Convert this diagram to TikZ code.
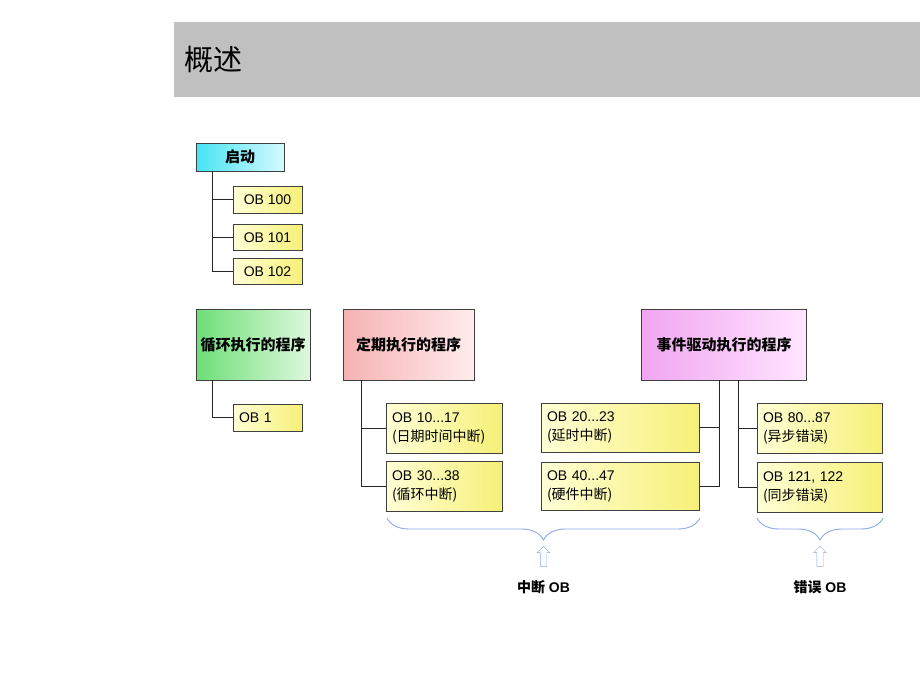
\documentclass[tikz,border=0pt]{standalone}
\usepackage{fontspec}
\usepackage{xcolor}
\setmainfont{Liberation Sans}
\newfontfamily\cjk{Noto Sans CJK SC}
\usepackage{tikz}
\usetikzlibrary{positioning,decorations.pathreplacing,shapes.arrows}
\definecolor{titlegray}{RGB}{192,192,192}
\definecolor{obleft}{RGB}{255,255,214}
\definecolor{obright}{RGB}{246,240,120}
\definecolor{braceblue}{RGB}{140,168,232}

\begin{document}
\begin{tikzpicture}[x=1pt, y=-1pt,
  obnode/.style={draw=black!75, left color=obleft, right color=obright, minimum width=69pt, minimum height=27pt, inner sep=0pt, font=\fontsize{14}{16}\selectfont},
  twonode/.style={obnode, align=left, inner xsep=6pt, minimum height=50pt, font=\fontsize{14}{19}\selectfont},
  headnode/.style={draw=black!75, minimum height=71pt, inner sep=0pt, font=\cjk\bfseries\fontsize{15}{18}\selectfont},
  tree/.style={draw=black!85, line width=0.9pt},
  brace/.style={draw=braceblue, line width=0.9pt, decorate, decoration={brace, mirror, amplitude=22pt}},
  uparrow/.style={single arrow, draw=braceblue, fill=white, shape border rotate=90, minimum height=20pt, minimum width=12pt, single arrow head extend=3pt, inner sep=3pt},
  grouplabel/.style={font=\bfseries\fontsize{14}{16}\selectfont}]
\useasboundingbox (0,0) rectangle (920,690);

% title bar
\fill[titlegray] (174,22) rectangle (920,97);
\node[anchor=west, font=\cjk\fontsize{29}{32}\selectfont] (ttl) at (181,60) {概述};

% startup
\node[draw=black!75, left color={rgb,255:red,70;green,228;blue,245}, right color={rgb,255:red,212;green,250;blue,255}, minimum width=88pt, minimum height=28pt, inner sep=0pt, font=\cjk\bfseries\fontsize{15}{18}\selectfont] (qd) at (240,157) {启动};
\node[obnode] (ob100) at (267.5,199.5) {OB 100};
\node[obnode, minimum height=26pt] (ob101) at (267.5,237.5) {OB 101};
\node[obnode, minimum height=26pt] (ob102) at (267.5,271.5) {OB 102};

% cyclic
\node[headnode, minimum width=114pt, left color={rgb,255:red,110;green,222;blue,120}, right color={rgb,255:red,222;green,248;blue,222}] (xh) at (253,344.5) {循环执行的程序};
\node[obnode, align=left, text width=57pt, inner xsep=6pt] (ob1) at (267.5,417.5) {OB 1};

% time driven
\node[headnode, minimum width=131pt, left color={rgb,255:red,245;green,178;blue,180}, right color={rgb,255:red,255;green,236;blue,236}] (dq) at (408.5,344.5) {定期执行的程序};
\node[twonode, text width=104pt] (ob10) at (444,428) {OB 10...17\\{\cjk\fontsize{14}{19}\selectfont (日期时间中断)}};
\node[twonode, text width=104pt] (ob30) at (444,486) {OB 30...38\\{\cjk\fontsize{14}{19}\selectfont (循环中断)}};

% event driven
\node[headnode, minimum width=165pt, left color={rgb,255:red,240;green,165;blue,240}, right color={rgb,255:red,255;green,230;blue,255}] (sj) at (724,344.5) {事件驱动执行的程序};
\node[twonode, text width=146pt, minimum height=49pt] (ob20) at (620,427.5) {OB 20...23\\{\cjk\fontsize{14}{19}\selectfont (延时中断)}};
\node[twonode, text width=146pt, minimum height=48pt] (ob40) at (620,486) {OB 40...47\\{\cjk\fontsize{14}{19}\selectfont (硬件中断)}};
\node[twonode, text width=113pt] (ob80) at (819.5,428) {OB 80...87\\{\cjk\fontsize{14}{19}\selectfont (异步错误)}};
\node[twonode, text width=113pt] (ob121) at (819.5,487) {OB 121, 122\\{\cjk\fontsize{14}{19}\selectfont (同步错误)}};

\draw[tree] ([xshift=17pt]qd.south west) |- (ob100.west);
\draw[tree] ([xshift=17pt]qd.south west) |- (ob101.west);
\draw[tree] ([xshift=17pt]qd.south west) |- (ob102.west);
\draw[tree] ([xshift=17pt]xh.south west) |- (ob1.west);
\draw[tree] ([xshift=19pt]dq.south west) |- (ob10.west);
\draw[tree] ([xshift=19pt]dq.south west) |- (ob30.west);
\draw[tree] ([xshift=-5pt]sj.south) |- (ob20.east);
\draw[tree] ([xshift=-5pt]sj.south) |- (ob40.east);
\draw[tree] ([xshift=14pt]sj.south) |- (ob80.west);
\draw[tree] ([xshift=14pt]sj.south) |- (ob121.west);

% groups
\coordinate (b1l) at (387,518);
\coordinate (b1r) at (700,518);
\coordinate (b2l) at (757,518);
\coordinate (b2r) at (883,518);
\draw[brace] (b1l) -- (b1r);
\draw[brace] (b2l) -- (b2r);
\node[uparrow] (ar1) at (543.5,558) {};
\node[uparrow] (ar2) at (820,558) {};
\node[grouplabel] (lb1) at (543.5,587) {{\cjk\bfseries 中断} OB};
\node[grouplabel] (lb2) at (820,587) {{\cjk\bfseries 错误} OB};

\end{tikzpicture}
\end{document}
